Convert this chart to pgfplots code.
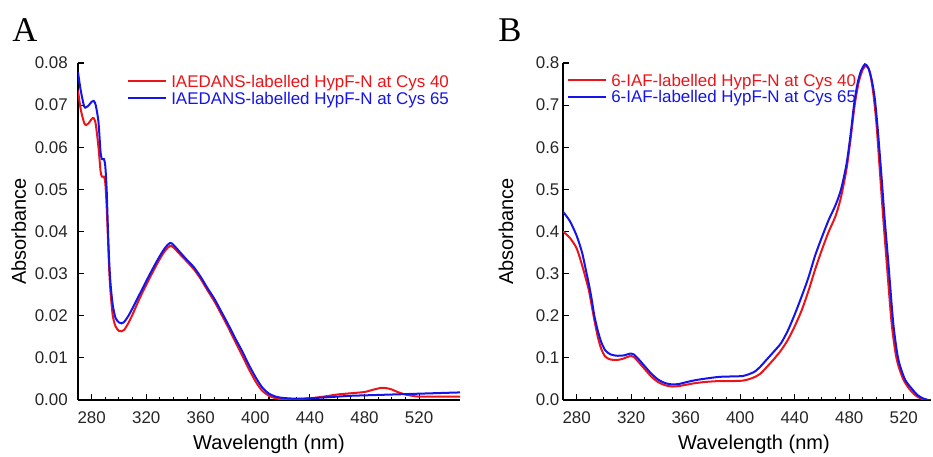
\documentclass[border=0pt]{standalone}
\usepackage{pgfplots}
\pgfplotsset{compat=1.18}
\usepackage{fontspec}
\setmainfont{Liberation Sans}
\newfontfamily\seriffont{Liberation Serif}
\definecolor{cred}{RGB}{235,20,25}
\definecolor{cblue}{RGB}{20,20,235}

\begin{document}
\begin{tikzpicture}
\path[use as bounding box] (0,0) rectangle (699.75pt,342.75pt);
\pgfplotsset{
  myaxis/.style={
    scale only axis,
    axis lines=left,
    axis line style={-, line width=0.9pt, black},
    tick align=inside,
    major tick length=4.5pt,
    minor tick length=2.6pt,
    every tick/.style={black, line width=0.8pt},
    xtick={280,320,...,520},
    minor x tick num=3,
    scaled y ticks=false,
    /pgf/number format/assume math mode=true,
    tick label style={font=\fontsize{12.7}{15}\selectfont, text=black!85},
    xticklabel style={anchor=base, yshift=-17.6pt},
    xlabel={Wavelength (nm)},
    ylabel={Absorbance},
    every axis x label/.style={at={(axis description cs:0.5,-0.148)}, anchor=base, font=\fontsize{15}{18}\selectfont},
    legend cell align=left,
    legend image code/.code={\draw[##1, line width=1.5pt] (0pt,0pt) -- (28.5pt,0pt); \path (31.5pt,0pt);},
    legend style={draw=none, fill=none, inner sep=0pt, anchor=north west,
      nodes={inner sep=0pt, text height=11pt, text depth=1.5pt},
      font=\fontsize{12.7}{15}\selectfont},
  },
  every axis plot/.append style={line width=1.5pt, smooth, tension=0.45},
}

% ---------------- Panel A ----------------
\begin{axis}[myaxis,
  at={(58.5pt,42.75pt)}, anchor=south west,
  width=286.5pt, height=252.75pt,
  xmin=270, xmax=550, ymin=0, ymax=0.08,
  ytick={0,0.01,...,0.08},
  yticklabel style={/pgf/number format/.cd, fixed, fixed zerofill, precision=2, /tikz/.cd, anchor=east, inner sep=0pt, xshift=-7.5pt},
  every axis y label/.style={at={(axis description cs:-0.155,0.5)}, rotate=90, anchor=center, font=\fontsize{15}{18}\selectfont},
  legend style={at={(axis description cs:0.1283,0.9715)}},
]
\addplot[cred] coordinates {
(270,0.0735)(272,0.0690)(274.5,0.0658)(276,0.0653)(278,0.0658)(280,0.0667)(281.5,0.0669)(283,0.0655)(285,0.0600)(286.5,0.0545)(287.5,0.0530)(289,0.0530)(290,0.0515)(291,0.0460)(292,0.0380)(293,0.0300)(294,0.0250)(295.5,0.0200)(297.5,0.0175)(300,0.0164)(302,0.0163)(304,0.0167)(307,0.0183)(310,0.0203)(315,0.0240)(320,0.0273)(325,0.0305)(330,0.0335)(334,0.0355)(337.5,0.0366)(340,0.0362)(345,0.0345)(350,0.0328)(355,0.0310)(360,0.0287)(365,0.0260)(370,0.0234)(375,0.0204)(380,0.0173)(385,0.0140)(390,0.0108)(395,0.0075)(400,0.0045)(405,0.0022)(410,0.0010)(415,0.0004)(420,0.0002)(430,0.0002)(440,0.0004)(450,0.0008)(460,0.0013)(470,0.0016)(480,0.0019)(487,0.0025)(493,0.0029)(499,0.0026)(505,0.0018)(510,0.0013)(515,0.0010)(520,0.0008)(535,0.0008)(550,0.0008)
};
\addlegendentry{\textcolor{cred}{IAEDANS-labelled HypF-N at Cys 40}}
\addplot[cblue] coordinates {
(270,0.0778)(272,0.0735)(274.5,0.0697)(276,0.0695)(278,0.0700)(280,0.0708)(281.5,0.0710)(283,0.0700)(285,0.0660)(286.5,0.0590)(287.5,0.0572)(289,0.0572)(290,0.0555)(291,0.0500)(292,0.0400)(293,0.0320)(294,0.0270)(295.5,0.0225)(297.5,0.0195)(300,0.0184)(302,0.0182)(304,0.0186)(307,0.0200)(310,0.0218)(315,0.0250)(320,0.0282)(325,0.0313)(330,0.0342)(334,0.0362)(337.5,0.0373)(340,0.0368)(345,0.0350)(350,0.0332)(355,0.0315)(360,0.0292)(365,0.0265)(370,0.0240)(375,0.0210)(380,0.0180)(385,0.0148)(390,0.0118)(395,0.0085)(400,0.0055)(405,0.0030)(410,0.0015)(415,0.0008)(420,0.0005)(430,0.0003)(440,0.0004)(450,0.0006)(460,0.0008)(470,0.0010)(480,0.0011)(490,0.0012)(500,0.0013)(510,0.0014)(520,0.0015)(530,0.0016)(540,0.0017)(550,0.0018)
};
\addlegendentry{\textcolor{cblue}{IAEDANS-labelled HypF-N at Cys 65}}
\end{axis}

% ---------------- Panel B ----------------
\begin{axis}[myaxis,
  at={(422.25pt,42.75pt)}, anchor=south west,
  width=276pt, height=252.75pt,
  xmin=270, xmax=540, ymin=0, ymax=0.8,
  ytick={0,0.1,...,0.8},
  yticklabel style={/pgf/number format/.cd, fixed, fixed zerofill, precision=1, /tikz/.cd, anchor=east, inner sep=0pt, xshift=-2.5pt},
  every axis y label/.style={at={(axis description cs:-0.155,0.5)}, rotate=90, anchor=center, font=\fontsize{15}{18}\selectfont},
  every axis x label/.style={at={(axis description cs:0.519,-0.148)}, anchor=base, font=\fontsize{15}{18}\selectfont},
  legend style={at={(axis description cs:0.011,0.9754)}},
]
\addplot[cred] coordinates {
(270,0.400)(275,0.385)(280,0.360)(284,0.320)(287,0.285)(289,0.260)(291,0.225)(293,0.190)(295.5,0.150)(298,0.122)(301,0.103)(305,0.096)(310,0.095)(315,0.099)(319,0.104)(322,0.102)(326,0.088)(330,0.073)(335,0.055)(340,0.042)(345,0.035)(350,0.032)(355,0.033)(360,0.036)(367,0.040)(375,0.043)(385,0.045)(395,0.045)(402,0.046)(407,0.050)(411,0.055)(415,0.063)(420,0.080)(425,0.098)(430,0.118)(435,0.143)(440,0.175)(445,0.212)(450,0.258)(455,0.310)(460,0.357)(465,0.400)(470,0.437)(474,0.482)(478,0.548)(481,0.620)(484,0.700)(487,0.755)(490,0.785)(492.5,0.793)(495,0.780)(497.6,0.730)(500,0.655)(502.5,0.542)(505,0.430)(507.4,0.330)(511,0.186)(513.8,0.115)(515.9,0.083)(519.8,0.048)(524.4,0.025)(529,0.010)(533,0.003)(537,0.000)(540,0.000)
};
\addlegendentry{\textcolor{cred}{6-IAF-labelled HypF-N at Cys 40}}
\addplot[cblue] coordinates {
(270,0.447)(275,0.425)(280,0.390)(284,0.350)(287,0.305)(289,0.275)(291,0.240)(293,0.200)(295.5,0.165)(298,0.138)(301,0.118)(305,0.108)(310,0.105)(315,0.106)(319,0.110)(322,0.108)(326,0.095)(330,0.080)(335,0.062)(340,0.048)(345,0.040)(350,0.037)(355,0.038)(360,0.042)(367,0.047)(375,0.051)(385,0.055)(395,0.056)(402,0.057)(407,0.062)(411,0.068)(415,0.080)(420,0.098)(425,0.116)(430,0.135)(435,0.165)(440,0.203)(445,0.245)(450,0.290)(455,0.343)(460,0.387)(465,0.428)(470,0.463)(474,0.500)(478,0.560)(481,0.630)(483.5,0.700)(486,0.750)(488.5,0.780)(491.5,0.797)(494,0.788)(496.5,0.760)(498.8,0.715)(501,0.640)(503.7,0.530)(506,0.430)(508.6,0.330)(512.2,0.186)(515,0.115)(517.1,0.083)(521,0.048)(525.6,0.028)(530,0.012)(534,0.004)(538,0.000)(540,0.000)
};
\addlegendentry{\textcolor{cblue}{6-IAF-labelled HypF-N at Cys 65}}
\end{axis}

\node[anchor=base west, font=\seriffont\fontsize{26}{30}\selectfont, inner sep=0pt] at (9pt,311.25pt) {A};
\node[anchor=base west, font=\seriffont\fontsize{26}{30}\selectfont, inner sep=0pt] at (373.5pt,311.25pt) {B};
\end{tikzpicture}
\end{document}
